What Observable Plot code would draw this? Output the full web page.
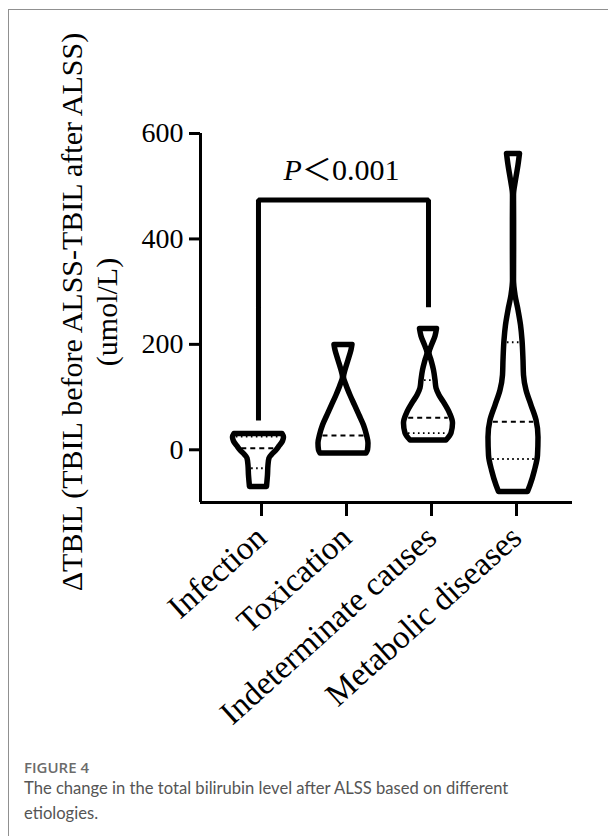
<!DOCTYPE html>
<html>
<head>
<meta charset="utf-8">
<script src="https://cdn.jsdelivr.net/npm/d3@7"></script>
<script src="https://cdn.jsdelivr.net/npm/@observablehq/plot@0.6"></script>
<style>
  html, body { margin: 0; padding: 0; background: #fff; width: 608px; height: 836px; overflow: hidden; }
  #frame { position: absolute; left: 8px; top: 9px; width: 640px; height: 860px; border-left: 1.5px solid #909090; border-top: 1.5px solid #909090; }
  #chart { position: absolute; left: 0; top: 0; }
  .cap { position: absolute; left: 24px; }
  #fig { top: 757px; font-family: "Open Sans", sans-serif; font-size: 15px; line-height: 20px; color: #6b6b6b; font-weight: 600; }
  #captext { top: 776px; font-family: Lato, "Open Sans", sans-serif; font-size: 16.6px; line-height: 25px; color: #555; width: 580px; }
</style>
</head>
<body>
<div id="frame"></div>
<div id="chart"></div>
<div id="fig" class="cap">FIGURE 4</div>
<div id="captext" class="cap">The change in the total bilirubin level after ALSS based on different<br>etiologies.</div>
<script>
// ---- Data ----
const categories = ["Infection", "Toxication", "Indeterminate causes", "Metabolic diseases"];
const yTicks = [0, 200, 400, 600];

// Violin outlines: ΔTBIL values (umol/L) and relative half-width (density)
const infectionY = [30, 23.3, 15.7, 6.3, -1.3, -8.9, -16.5, -29.8, -48.8, -70.6];
const infectionD = [24, 25.5, 24.5, 21, 18, 14, 11, 10, 9.5, 8.5];

const toxicationY = [198.9, 188.4, 169.4, 150.5, 137.2, 122.0, 103.0, 84.1, 65.1, 46.1, 27.1, 12.0, -1.3, -7];
const toxicationD = [9, 8, 5, 2, 0.5, 3, 7, 11.5, 16, 20.5, 23.5, 25, 24.5, 23];

const indeterminateY = [229, 215, 198, 183, 169.4, 150.5, 131.5, 116.4, 103, 87.9, 68.9, 49.9, 30.9, 17.6];
const indeterminateD = [8.5, 7, 3.5, 1, 3, 5.5, 7, 8, 11, 16, 21.5, 24.5, 23, 18];

const metabolicY = [561.3, 539.5, 511, 482.7, 435.3, 378.4, 321.4, 293, 264.4, 236, 207.4, 169.4, 141, 112.5, 84, 55.6, 23.3, -10.8, -39.3, -67.8, -80.1];
const metabolicD = [6.5, 5, 2.5, 0.5, 0.6, 0.6, 0.5, 2, 5, 7.5, 9, 10, 10.5, 13, 18, 23, 25, 24.5, 21.5, 17, 14.5];

// Median and quartiles per category (null = not shown)
const medians = [3, 27, 60.7, 53];
const lowerQuartiles = [-35, null, 31.5, -17.5];
const upperQuartiles = [25, null, 132, 204];

// Significance bracket
const bracketGroups = [1, 3];
const bracketTop = 474;
const bracketEnds = [55.6, 270.6];
const pLabel = "0.001";

// ---- Build tables ----
const widthScale = 1 / 85; // density -> x units
const profiles = [
  [infectionY, infectionD],
  [toxicationY, toxicationD],
  [indeterminateY, indeterminateD],
  [metabolicY, metabolicD]
];
const violinRows = profiles.map(([ys, ds], i) =>
  ys.map((y, j) => ({group: i + 1, y, d: ds[j]})).sort((a, b) => a.y - b.y)
);
function halfWidthAt(i, y) {
  const rows = violinRows[i];
  for (let k = 0; k < rows.length - 1; k++) {
    const a = rows[k], b = rows[k + 1];
    if (y >= a.y && y <= b.y) {
      const t = (y - a.y) / (b.y - a.y);
      return a.d + t * (b.d - a.d);
    }
  }
  return rows[0].d;
}
function lineRows(values) {
  return values.map((v, i) => v == null ? null : ({
    group: i + 1, y: v, w: Math.max(0, halfWidthAt(i, v) - 3) * widthScale
  })).filter(Boolean);
}
const medianRows = lineRows(medians);
const quartileRows = [...lineRows(lowerQuartiles), ...lineRows(upperQuartiles)];

const bracket = [
  {x: bracketGroups[0], y: bracketEnds[0]},
  {x: bracketGroups[0], y: bracketTop},
  {x: bracketGroups[1], y: bracketTop},
  {x: bracketGroups[1], y: bracketEnds[1]}
];
const pMid = (bracketGroups[0] + bracketGroups[1]) / 2;

const serif = "'Liberation Serif', 'Times New Roman', serif";

const violinMarks = violinRows.map(rows =>
  Plot.areaX(rows, {
    y: "y",
    x1: d => d.group - d.d * widthScale,
    x2: d => d.group + d.d * widthScale,
    curve: "monotone-y",
    fill: "white",
    stroke: "black",
    strokeWidth: 5.5,
    strokeLinejoin: "round"
  })
);

const chart = Plot.plot({
  width: 608,
  height: 700,
  marginLeft: 200,
  marginRight: 36,
  marginTop: 133,
  marginBottom: 198,
  x: {domain: [0.318, 4.694]},
  y: {domain: [-100, 600]},
  style: {fontFamily: serif, fontSize: "28px", color: "black", background: "transparent", overflow: "visible"},
  marks: [
    // axes
    Plot.ruleX([0.318], {y1: -100, y2: 600, stroke: "black", strokeWidth: 3}),
    Plot.ruleY([-100], {x1: 0.318, x2: 4.694, stroke: "black", strokeWidth: 3}),
    Plot.axisY({ticks: yTicks, tickSize: 11, tickPadding: 6, strokeWidth: 3, fontSize: 28, fontFamily: serif, label: null}),
    Plot.axisX({ticks: [1, 2, 3, 4], tickFormat: i => categories[i - 1], tickRotate: -42, tickSize: 14, tickPadding: 16, dx: 3, strokeWidth: 3, fontSize: 33, fontFamily: serif, label: null}),
    // violins
    ...violinMarks,
    Plot.ruleY(medianRows, {y: "y", x1: d => d.group - d.w, x2: d => d.group + d.w, stroke: "black", strokeWidth: 2, strokeDasharray: "5,4"}),
    Plot.ruleY(quartileRows, {y: "y", x1: d => d.group - d.w, x2: d => d.group + d.w, stroke: "black", strokeWidth: 1.8, strokeDasharray: "1.6,3.4"}),
    // bracket
    Plot.line(bracket, {x: "x", y: "y", stroke: "black", strokeWidth: 5, strokeLinejoin: "miter", strokeLinecap: "butt"}),
    Plot.text([pMid], {x: d => d, y: 511, text: () => "P", fontStyle: "italic", fontSize: 30, fontFamily: serif, textAnchor: "start", lineAnchor: "bottom", dx: -60, fill: "black"}),
    Plot.text([pMid], {x: d => d, y: 511, text: () => "＜" + pLabel, fontSize: 30, fontFamily: serif + ", 'Noto Sans CJK SC'", textAnchor: "end", lineAnchor: "bottom", dx: 56, fill: "black"}),
    // y label
    Plot.text(["ΔTBIL (TBIL before ALSS-TBIL after ALSS)\n(umol/L)"], {frameAnchor: "left", text: d => d, rotate: -90, dx: -112, dy: -6, fontSize: 30, fontFamily: serif, lineHeight: 1.15, textAnchor: "middle", lineAnchor: "middle", fill: "black"})
  ]
});
document.getElementById("chart").appendChild(chart);
</script>
</body>
</html>
